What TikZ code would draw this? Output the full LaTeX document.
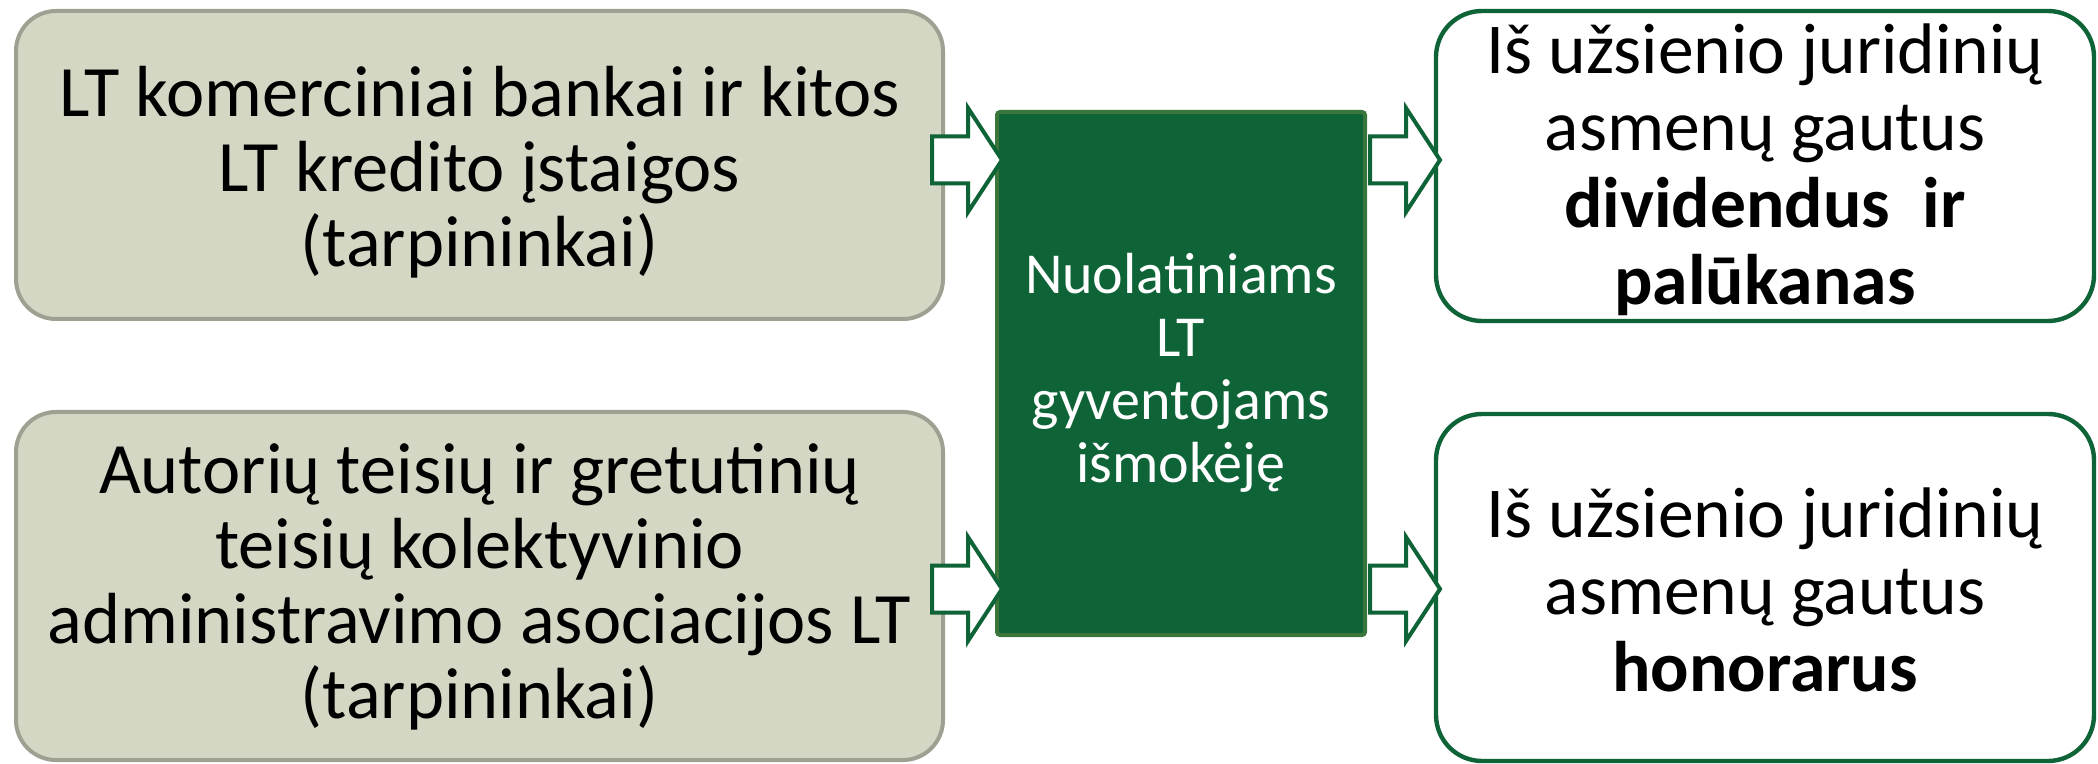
\documentclass[tikz,border=0pt]{standalone}
\usepackage{fontspec}
\setmainfont{Carlito}
\definecolor{lfill}{RGB}{212,215,196}
\definecolor{lborder}{RGB}{158,161,146}
\definecolor{dgreen}{RGB}{14,99,55}
\definecolor{cborder}{RGB}{58,118,60}
\tikzset{
  leftbox/.style={draw=lborder, fill=lfill, line width=2pt, rounded corners=20pt},
  rightbox/.style={draw=dgreen, fill=white, line width=2.2pt, rounded corners=23pt},
  centerbox/.style={draw=cborder, fill=dgreen, line width=2pt, rounded corners=1.5pt},
  blockarrow/.style={draw=dgreen, fill=white, line width=2pt, line join=miter},
  barrow/.pic={\draw[blockarrow] (0,-23.5) -- (36,-23.5) -- (36,-52) -- (70,0) -- (36,52) -- (36,23.5) -- (0,23.5) -- cycle;},
  ltext/.style={align=center, font=\fontsize{36.2}{37.5}\selectfont, text=black},
  ctext/.style={align=center, font=\fontsize{29}{31.5}\selectfont, text=white},
  rtext/.style={align=center, font=\fontsize{35.8}{38.5}\selectfont, text=black},
}
\begin{document}
\begin{tikzpicture}[x=0.5pt,y=-0.5pt]
\useasboundingbox (0,0) rectangle (2098,764);
% boxes
\draw[leftbox] (16,11) rectangle (943,319);
\coordinate (tl) at (479.5,172);
\draw[leftbox] (16,412) rectangle (943,760);
\coordinate (bl) at (479.5,587);
\draw[centerbox] (997,112) rectangle (1365,635);
\coordinate (cc) at (1181,373);
\draw[rightbox] (1436,11) rectangle (2094,321);
\coordinate (tr) at (1765,170);
\draw[rightbox] (1436,414) rectangle (2094,761);
\coordinate (br) at (1765,590);
% texts
\node[ltext] (tlt) at (tl) {LT komerciniai bankai ir kitos\\LT kredito įstaigos\\(tarpininkai)};
\node[ltext] (blt) at (bl) {Autorių teisių ir gretutinių\\teisių kolektyvinio\\administravimo asociacijos LT\\(tarpininkai)};
\node[ctext] (cct) at (cc) {Nuolatiniams\\LT\\gyventojams\\išmokėję};
\node[rtext] (trt) at (tr) {Iš užsienio juridinių\\asmenų gautus\\\textbf{dividendus\ \ ir}\\\textbf{palūkanas}};
\node[rtext] (brt) at (br) {Iš užsienio juridinių\\asmenų gautus\\\textbf{honorarus}};
% block arrows
\pic at (932,160) {barrow};
\pic at (932,589) {barrow};
\pic at (1370,160) {barrow};
\pic at (1370,589) {barrow};
\end{tikzpicture}
\end{document}
